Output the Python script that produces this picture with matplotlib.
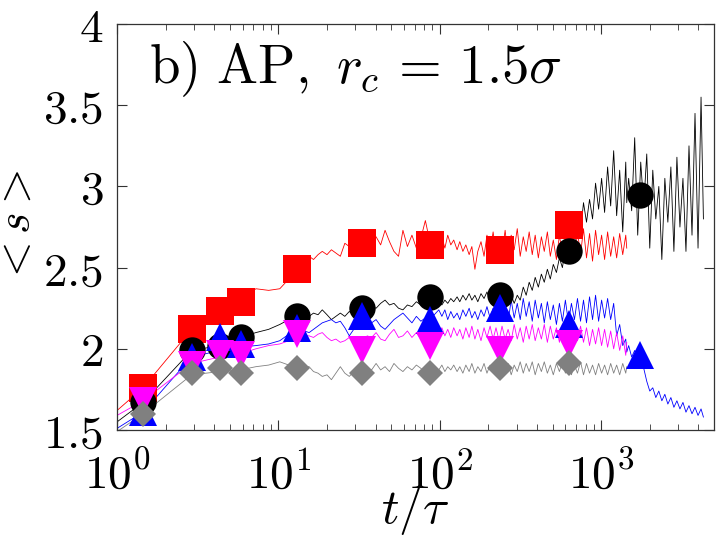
import matplotlib
matplotlib.use("Agg")
import matplotlib.pyplot as plt
from matplotlib.ticker import FixedLocator, LogLocator, NullFormatter

plt.rcParams["mathtext.fontset"] = "cm"
plt.rcParams["font.family"] = "serif"

# time grid (t/tau)
T_EARLY = [1.0, 1.45, 2.9, 4.35, 5.8, 7.25, 8.7, 10.2, 11.6, 13.0, 14.5]
T_MID = [15.5, 16.5, 17.6, 18.7, 20.0, 21.3, 22.7, 24.2, 25.8, 27.5,
         29.3, 31.2, 33.3, 35.5, 37.8, 40.3, 43.0, 45.8, 48.8, 52.0,
         55.5, 59.1, 63.0, 67.2, 71.6, 76.3, 81.4, 86.7, 92.5, 98.6]
T_LATE = [103, 107.5, 112, 117, 122, 128, 133, 139, 145, 152,
          158, 165, 172, 180, 188, 196, 205, 214, 223, 233,
          243, 254, 265, 277, 289, 302, 315, 329, 343, 358,
          374, 390, 408, 426, 444, 464, 484, 505, 528, 551,
          575, 600, 627, 654, 683, 713, 745, 777, 811, 847,
          884, 923, 964, 1006, 1050, 1096, 1145, 1195, 1247, 1302,
          1360, 1420, 1440]
T_TAIL = [1480, 1545, 1613, 1684, 1758, 1835, 1916, 2000, 2088, 2180,
          2276, 2376, 2480, 2589, 2703, 2822, 2946, 3076, 3211, 3352,
          3500, 3654, 3814, 3982, 4157, 4300]
T_ALL = T_EARLY + T_MID + T_LATE + T_TAIL

red_line = [1.62, 1.76, 2.12, 2.23, 2.29, 2.37, 2.36, 2.37, 2.43, 2.48, 2.53,
            2.57, 2.55, 2.58, 2.60, 2.58, 2.61, 2.59, 2.57, 2.65, 2.63,
            2.66, 2.64, 2.66, 2.63, 2.67, 2.69, 2.64, 2.73, 2.66, 2.60,
            2.57, 2.73, 2.63, 2.70, 2.62, 2.68, 2.79, 2.66, 2.70, 2.63,
            2.69, 2.62, 2.70, 2.64, 2.67, 2.61, 2.66, 2.60, 2.64, 2.58,
            2.63, 2.49, 2.60, 2.66, 2.57, 2.70, 2.60, 2.72, 2.58, 2.68,
            2.59, 2.73, 2.56, 2.70, 2.61, 2.74, 2.57, 2.69, 2.60, 2.72,
            2.58, 2.70, 2.56, 2.69, 2.60, 2.72, 2.57, 2.67, 2.55, 2.70,
            2.58, 2.73, 2.57, 2.70, 2.55, 2.72, 2.58, 2.74, 2.56, 2.71,
            2.54, 2.73, 2.58, 2.70, 2.55, 2.72, 2.57, 2.69, 2.56, 2.71,
            2.58, 2.70, 2.62]

black_line = [1.55, 1.67, 1.99, 2.02, 2.07, 2.10, 2.12, 2.15, 2.18, 2.20, 2.21,
              2.20, 2.22, 2.21, 2.24, 2.21, 2.18, 2.20, 2.22, 2.20, 2.23,
              2.21, 2.25, 2.25, 2.23, 2.26, 2.25, 2.28, 2.30, 2.27, 2.28,
              2.25, 2.24, 2.27, 2.26, 2.29, 2.27, 2.31, 2.30, 2.27, 2.30,
              2.27, 2.30, 2.28, 2.31, 2.29, 2.32, 2.29, 2.33, 2.30, 2.34,
              2.30, 2.33, 2.29, 2.34, 2.31, 2.35, 2.30, 2.34, 2.31, 2.35,
              2.30, 2.34, 2.29, 2.33, 2.28, 2.33, 2.30, 2.38, 2.33, 2.41,
              2.36, 2.44, 2.38, 2.46, 2.41, 2.49, 2.43, 2.52, 2.47, 2.56,
              2.50, 2.62, 2.56, 2.70, 2.64, 2.80, 2.72, 2.90, 2.78, 2.92,
              2.80, 3.02, 2.86, 3.05, 2.84, 3.12, 2.88, 3.22, 2.82, 3.10,
              2.72, 3.15, 2.90,
              3.05, 2.85, 3.30, 2.70, 3.15, 2.88, 3.20, 2.62, 3.10, 2.80,
              3.00, 2.55, 3.05, 2.78, 3.12, 2.60, 3.18, 2.75, 3.05, 2.60,
              3.25, 2.70, 3.45, 2.62, 3.55, 2.80]

blue_line = [1.51, 1.61, 1.95, 1.99, 2.01, 2.02, 2.03, 2.05, 2.09, 2.13, 2.11,
             2.10, 2.12, 2.14, 2.16, 2.17, 2.18, 2.16, 2.17, 2.13, 2.08,
             2.12, 2.17, 2.20, 2.19, 2.16, 2.18, 2.14, 2.12, 2.15, 2.18,
             2.20, 2.22, 2.19, 2.16, 2.20, 2.17, 2.19, 2.18, 2.21, 2.24,
             2.20, 2.24, 2.18, 2.23, 2.19, 2.22, 2.18, 2.24, 2.20, 2.25,
             2.19, 2.23, 2.18, 2.24, 2.20, 2.26, 2.19, 2.25, 2.20, 2.27,
             2.19, 2.28, 2.17, 2.30, 2.19, 2.28, 2.18, 2.31, 2.20, 2.29,
             2.17, 2.30, 2.19, 2.28, 2.16, 2.29, 2.18, 2.27, 2.15, 2.28,
             2.17, 2.30, 2.16, 2.28, 2.18, 2.31, 2.17, 2.30, 2.16, 2.32,
             2.18, 2.33, 2.17, 2.30, 2.19, 2.31, 2.18, 2.28, 2.08, 2.15,
             2.02, 2.06, 1.98,
             2.02, 1.95, 1.99, 1.93, 1.96, 1.88, 1.80, 1.74, 1.76, 1.70,
             1.74, 1.68, 1.72, 1.66, 1.70, 1.64, 1.68, 1.63, 1.67, 1.61,
             1.65, 1.60, 1.64, 1.59, 1.63, 1.58]

magenta_line = [1.59, 1.68, 1.91, 1.95, 1.97, 2.00, 2.02, 2.03, 2.05, 2.07, 2.08,
                2.08, 2.07, 2.09, 2.10, 2.07, 2.05, 2.06, 2.04, 2.05, 2.07,
                2.04, 2.06, 2.05, 2.08, 2.07, 2.10, 2.06, 2.05, 2.09, 2.12,
                2.07, 2.08, 2.11, 2.07, 2.10, 2.06, 2.09, 2.08, 2.12, 2.09,
                2.13, 2.08, 2.12, 2.07, 2.13, 2.08, 2.12, 2.06, 2.13, 2.07,
                2.14, 2.06, 2.12, 2.05, 2.13, 2.07, 2.14, 2.06, 2.13, 2.05,
                2.14, 2.06, 2.12, 2.05, 2.15, 2.06, 2.13, 2.04, 2.14, 2.06,
                2.15, 2.05, 2.13, 2.06, 2.15, 2.04, 2.14, 2.06, 2.13, 2.04,
                2.15, 2.05, 2.14, 2.03, 2.13, 2.05, 2.14, 2.04, 2.13, 2.02,
                2.12, 2.03, 2.13, 2.02, 2.12, 2.01, 2.11, 2.00, 2.10, 1.99,
                2.08, 1.96, 2.04]

gray_line = [1.49, 1.60, 1.84, 1.86, 1.87, 1.89, 1.90, 1.92, 1.90, 1.89, 1.89,
             1.89, 1.86, 1.85, 1.83, 1.84, 1.81, 1.85, 1.89, 1.85, 1.83,
             1.86, 1.84, 1.86, 1.88, 1.87, 1.91, 1.87, 1.89, 1.86, 1.91,
             1.88, 1.86, 1.89, 1.87, 1.90, 1.88, 1.85, 1.87, 1.89, 1.87,
             1.90, 1.86, 1.89, 1.87, 1.90, 1.86, 1.89, 1.85, 1.90, 1.86,
             1.91, 1.85, 1.89, 1.86, 1.91, 1.85, 1.90, 1.86, 1.92, 1.85,
             1.90, 1.86, 1.91, 1.84, 1.90, 1.86, 1.92, 1.85, 1.91, 1.86,
             1.92, 1.84, 1.91, 1.86, 1.92, 1.85, 1.90, 1.84, 1.91, 1.86,
             1.92, 1.85, 1.91, 1.84, 1.90, 1.85, 1.92, 1.84, 1.91, 1.85,
             1.90, 1.84, 1.91, 1.85, 1.90, 1.84, 1.91, 1.85, 1.90, 1.84,
             1.91, 1.85, 1.89]

# symbols
T_MARK = [1.45, 2.9, 4.35, 5.86, 13.0, 33, 87, 235, 635, 1750]
red_mark = [1.76, 2.12, 2.23, 2.29, 2.49, 2.65, 2.64, 2.61, 2.76]
black_mark = [1.67, 1.99, 2.02, 2.07, 2.20, 2.25, 2.32, 2.33, 2.60, 2.95]
blue_mark = [1.61, 1.95, 2.07, 2.03, 2.13, 2.20, 2.18, 2.25, 2.15, 1.96]
magenta_mark = [1.68, 1.90, 1.97, 1.96, 2.09, 1.99, 2.02, 1.99, 2.03]
gray_mark = [1.60, 1.85, 1.88, 1.85, 1.88, 1.85, 1.85, 1.88, 1.91]

series = [
    (red_line, red_mark, "#ff0000", "s", 19.5),
    (black_line, black_mark, "black", "o", 19),
    (blue_line, blue_mark, "#0000ff", "^", 19.5),
    (magenta_line, magenta_mark, "#ff00ff", "v", 19.5),
    (gray_line, gray_mark, "#808080", "D", 13.5),
]

fig = plt.figure(figsize=(7.17, 5.38), dpi=100)
ax = fig.add_axes([0.1632, 0.2007, 0.8326, 0.7546])

for line, mark, col, mk, ms in series:
    ax.plot(T_ALL[:len(line)], line, color=col, lw=0.6, zorder=2)
for line, mark, col, mk, ms in series:
    ax.plot(T_MARK[:len(mark)], mark, ls="none", marker=mk, ms=ms,
            color=col, mew=0, zorder=3)

ax.set_xscale("log")
ax.set_xlim(1, 5000)
ax.set_ylim(1.5, 4)

ax.xaxis.set_major_locator(FixedLocator([1, 10, 100, 1000]))
ax.set_xticklabels([r"$10^{0}$", r"$10^{1}$", r"$10^{2}$", r"$10^{3}$"])
ax.xaxis.set_minor_locator(LogLocator(base=10, subs=range(2, 10)))
ax.xaxis.set_minor_formatter(NullFormatter())
yt = [1.5, 2, 2.5, 3, 3.5, 4]
ax.set_yticks(yt)
ax.set_yticklabels([r"$1.5$", r"$2$", r"$2.5$", r"$3$", r"$3.5$", r"$4$"])

ax.tick_params(which="both", direction="in", top=True, right=True,
               labelsize=34, color="#333333")
ax.tick_params(which="major", length=7, width=0.8)
ax.tick_params(which="minor", length=4, width=0.6)
ax.tick_params(axis="y", pad=10)
ax.tick_params(axis="x", pad=16)
for sp in ax.spines.values():
    sp.set_linewidth(0.9)
    sp.set_color("#333333")

ax.set_xlabel(r"$t/\tau$", fontsize=35, labelpad=-11)
ax.set_ylabel(r"$<s>$", fontsize=33, labelpad=3)
ax.text(0.053, 0.962, r"$\mathrm{b)\ AP,}\ r_c\,=\,1.5\sigma$", fontsize=39.5,
        transform=ax.transAxes, ha="left", va="top")

fig.savefig("out.png", dpi=100)
